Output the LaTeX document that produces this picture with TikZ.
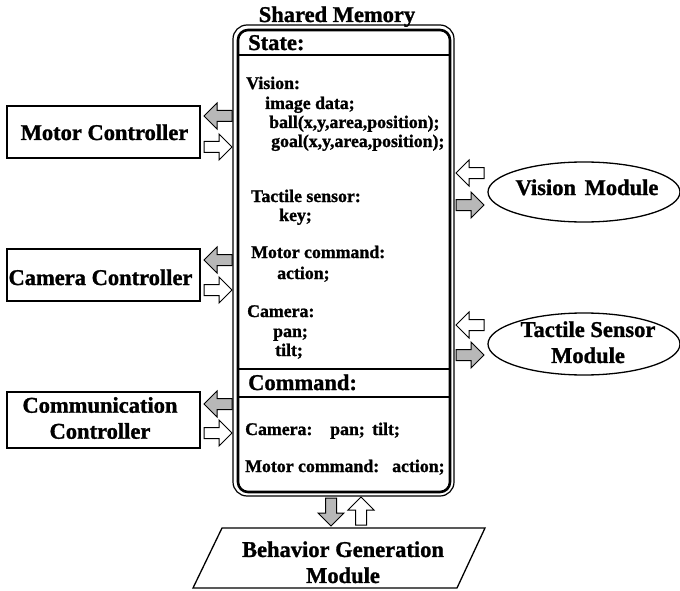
\documentclass[tikz,border=0pt]{standalone}
\usepackage{fontspec}
\setmainfont[BoldFeatures={FakeBold=1.2}]{Liberation Serif}
\usetikzlibrary{shapes.geometric}

\tikzset{
  memtxt/.style={anchor=base west, inner sep=0, font=\bfseries\fontsize{17.8}{18}\selectfont},
  headtxt/.style={anchor=base west, inner sep=0, font=\bfseries\fontsize{22.5}{24}\selectfont},
  bigtxt/.style={inner sep=0, align=center, font=\bfseries\fontsize{22.5}{26}\selectfont},
  ctrlbox/.style={draw, line width=1.3pt, inner sep=0},
  modell/.style={draw, ellipse, line width=1.3pt, inner sep=0},
  outarrow/.style={draw, line width=1pt, fill=black!28},
  inarrow/.style={draw, line width=1pt, fill=white},
  blk/.pic={\path[pic actions] (-14,-5.5) -- (1,-5.5) -- (1,-13) -- (14,0) -- (1,13) -- (1,5.5) -- (-14,5.5) -- cycle;}
}

\begin{document}
\begin{tikzpicture}[x=1pt,y=-1pt]
\useasboundingbox (0,0) rectangle (680,591);

% shared memory block: double rounded frame
\draw[line width=1.2pt, rounded corners=14pt] (233,25) rectangle (454,496);
\draw[line width=2.6pt, rounded corners=10pt] (238,30) rectangle (450,492);
\draw[line width=1.3pt] (238,55) -- (450,55);
\draw[line width=1.3pt] (238,369) -- (450,369);
\draw[line width=1.3pt] (238,397) -- (450,397);

\node[bigtxt, anchor=base] (title) at (337,22) {Shared Memory};

% state area
\node[headtxt] (state) at (248,50) {State:};
\node[memtxt] (vis) at (246,89) {Vision:};
\node[memtxt] (img) at (265,109) {image data;};
\node[memtxt] (ball) at (269,128) {ball(x,y,area,position);};
\node[memtxt] (goal) at (271,147) {goal(x,y,area,position);};
\node[memtxt] (tac) at (251,202) {Tactile sensor:};
\node[memtxt] (key) at (279,221) {key;};
\node[memtxt] (mot) at (251,258) {Motor command:};
\node[memtxt] (act) at (277,279) {action;};
\node[memtxt] (cam) at (247,317) {Camera:};
\node[memtxt] (pan) at (273,337) {pan;};
\node[memtxt] (tilt) at (275,356) {tilt;};

% command area
\node[headtxt] (cmd) at (248,390) {Command:};
\node[memtxt] (cmdcam) at (245,435) {Camera:};
\node[memtxt] (cmdpan) at (330,435) {pan;};
\node[memtxt] (cmdtilt) at (372,435) {tilt;};
\node[memtxt] (cmdmot) at (245,472) {Motor command:};
\node[memtxt] (cmdact) at (392,472) {action;};

% controllers on the left
\node[ctrlbox, minimum width=193pt, minimum height=52pt] (motor) at (103.5,132) {};
\node[bigtxt, anchor=base] (motortxt) at (104.5,140) {Motor Controller};
\node[ctrlbox, minimum width=193pt, minimum height=52pt] (camera) at (103.5,275) {};
\node[bigtxt, anchor=base] (cameratxt) at (100.5,285) {Camera Controller};
\node[ctrlbox, minimum width=193pt, minimum height=56pt] (comm) at (103.5,420) {};
\node[bigtxt] (commtxt) at (100,418) {Communication\\Controller};

% modules on the right
\node[modell, minimum width=192pt, minimum height=60pt] (vision) at (584,192) {};
\node[bigtxt, anchor=base] (visiontxt) at (587,195) {Vision\hspace{3pt} Module};
\node[modell, minimum width=192pt, minimum height=62pt] (tactile) at (584,344) {};
\node[bigtxt] (tactiletxt) at (588,342.3) {Tactile Sensor\\Module};

% behaviour generation module
\coordinate (bgA) at (222,528);
\coordinate (bgB) at (485,528);
\coordinate (bgC) at (457,588);
\coordinate (bgD) at (193,588);
\draw[line width=1.3pt] (bgA) -- (bgB) -- (bgC) -- (bgD) -- cycle;
\node[bigtxt] (bgtxt) at (343,562.3) {Behavior Generation\\Module};

% data flow arrows
\pic[outarrow, rotate=180] at (218,116) {blk};
\pic[inarrow] at (218,147) {blk};
\pic[outarrow, rotate=180] at (218,260) {blk};
\pic[inarrow] at (218,290) {blk};
\pic[outarrow, rotate=180] at (218,404) {blk};
\pic[inarrow] at (218,433) {blk};

\pic[inarrow, rotate=180] at (470,173) {blk};
\pic[outarrow] at (470,205) {blk};
\pic[inarrow, rotate=180] at (470,325) {blk};
\pic[outarrow] at (470,355) {blk};

\pic[outarrow, rotate=-90] at (331,512) {blk};
\pic[inarrow, rotate=90] at (361,511) {blk};
\end{tikzpicture}
\end{document}
